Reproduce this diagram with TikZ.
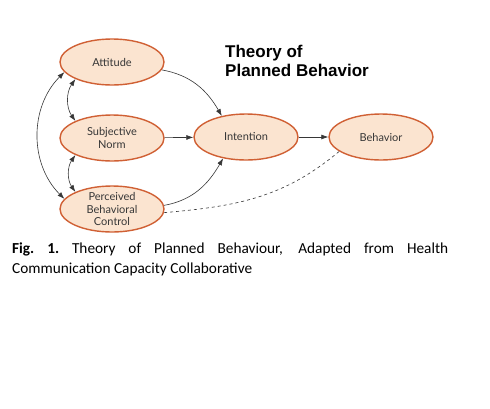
\documentclass[tikz,border=0pt]{standalone}
\usepackage{fontspec}
\setmainfont{Lato}
\newfontfamily\titlefont{Liberation Sans}
\newfontfamily\capfont{Carlito}
\usetikzlibrary{shapes.geometric,arrows.meta}
\definecolor{peach}{RGB}{251,228,208}
\definecolor{rim}{RGB}{208,96,52}
\definecolor{ink}{RGB}{55,55,55}

\begin{document}
\begin{tikzpicture}[x=1pt, y=-1pt,
  construct/.style={ellipse, draw=rim, line width=1.4pt, fill=peach,
    minimum width=104pt, minimum height=46pt, inner sep=0pt, align=center,
    text=ink, font=\fontsize{11}{12.5}\selectfont},
  arr/.style={-{Latex[length=7pt,width=5pt]}, draw=ink, line width=0.6pt},
  both/.style={{Latex[length=7pt,width=5pt]}-{Latex[length=7pt,width=5pt]},
    draw=ink, line width=0.6pt}]
  \useasboundingbox (0,0) rectangle (490,408);
  \fill[white] (0,0) rectangle (490,408);

  \node[construct] (att) at (112,62) {Attitude};
  \node[construct] (norm) at (112,138) {Subjective\\Norm};
  \node[construct, inner ysep=-4pt] (pbc) at (112,209) {Perceived\\Behavioral\\Control};
  \node[construct] (intent) at (246,137) {Intention};
  \node[construct] (behav) at (381,137) {Behavior};

  \node[anchor=north west, align=left, inner sep=0pt,
    font=\titlefont\bfseries\fontsize{17}{19}\selectfont] (title) at (225,45)
    {Theory of\\Planned Behavior};

  % paths into intention
  \draw[arr] (att.-9) to[out=-10, in=120] (intent.139);
  \draw[arr] (norm) -- (intent);
  \draw[arr] (pbc.4) to[out=10, in=-120] (intent.-137);
  \draw[arr] (intent) -- (behav);
  \draw[ink, dashed, line width=0.6pt] (pbc.-4) to[out=5, in=-140] (behav.-161);

  % correlations
  \draw[both] (att.-155) to[bend right=35] (norm.155);
  \draw[both] (norm.-155) to[bend right=35] (pbc.155);
  \draw[both] (att.-168) to[bend right=45] (pbc.168);

  \node[anchor=north west, inner sep=0pt, text width=436pt, align=justify,
    font=\capfont\fontsize{15.3}{20}\selectfont] (caption) at (12,243)
    {\textbf{Fig.\ 1.}\ Theory of Planned Behaviour, Adapted from Health\linebreak
     Communication Capacity Collaborative};
\end{tikzpicture}
\end{document}
